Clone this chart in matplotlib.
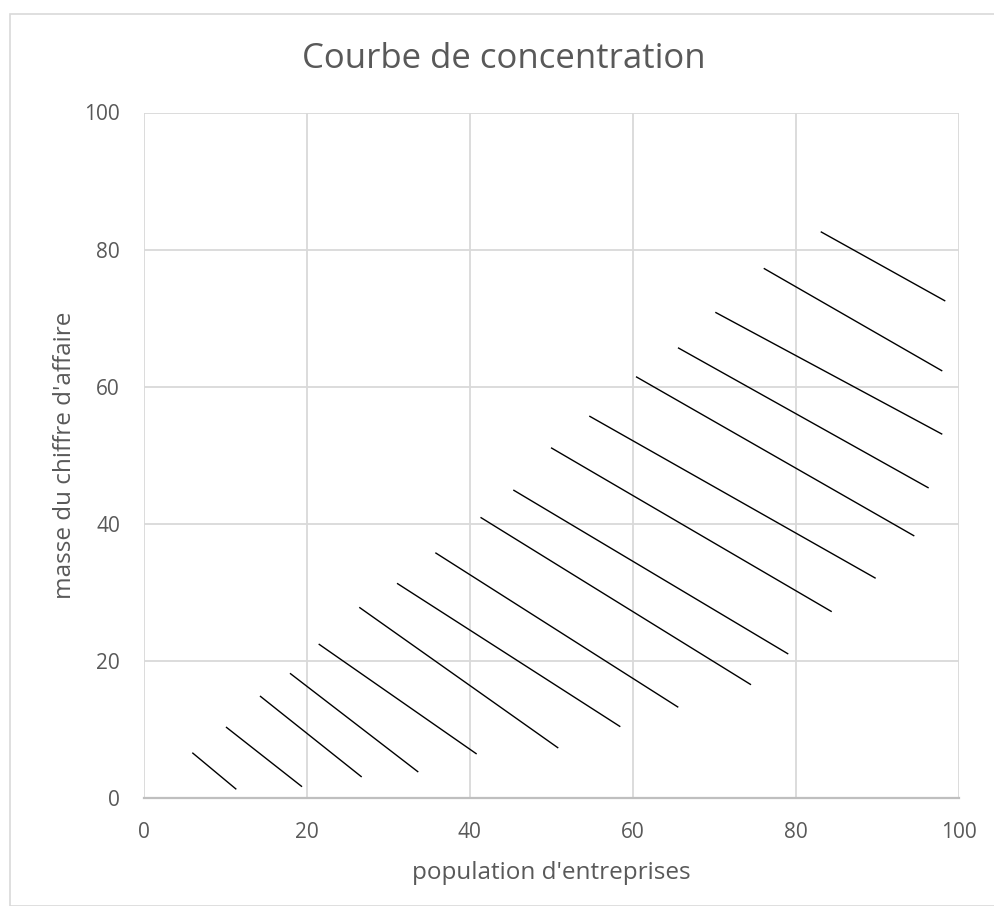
import matplotlib
matplotlib.use("Agg")
import matplotlib.pyplot as plt
from matplotlib.patches import Rectangle

# Hatching segments: start (x0, y0) and end (x1, y1) of each stroke
x_start = [5.96, 10.09, 14.26, 17.94, 21.46, 26.44, 31.07, 35.77, 41.31,
           45.33, 49.96, 54.65, 60.38, 65.53, 70.11, 76.05, 83.04]
y_start = [6.65, 10.40, 14.92, 18.23, 22.50, 27.85, 31.35, 35.81, 40.97,
           44.96, 51.12, 55.74, 61.48, 65.70, 70.87, 77.28, 82.62]
x_end = [11.36, 19.42, 26.74, 33.68, 40.84, 50.85, 58.46, 65.57, 74.49,
         79.06, 84.39, 89.78, 94.52, 96.28, 97.95, 97.95, 98.32]
y_end = [1.31, 1.69, 3.11, 3.83, 6.46, 7.33, 10.44, 13.27, 16.56,
         21.04, 27.21, 32.08, 38.25, 45.25, 53.08, 62.31, 72.51]

x_ticks = [0, 20, 40, 60, 80, 100]
y_ticks = [0, 20, 40, 60, 80, 100]

title = "Courbe de concentration"
x_label = "population d'entreprises"
y_label = "masse du chiffre d'affaire"

plt.rcParams['font.family'] = ['Open Sans', 'DejaVu Sans']

W, H = 994, 906
fig = plt.figure(figsize=(W / 100, H / 100), dpi=100)
fig.patch.set_facecolor("white")

# chart-area frame
fig.patches.append(Rectangle((9.5 / W, 0), 1.2, 1 - 13.5 / H,
                             transform=fig.transFigure, fill=False,
                             edgecolor="#d9d9d9", linewidth=1.2))

left, right = 143.7 / W, 959.0 / W
bottom, top = 1 - 798.3 / H, 1 - 112.5 / H
ax = fig.add_axes([left, bottom, right - left, top - bottom])

ax.set_xlim(0, 100)
ax.set_ylim(0, 100)
ax.set_xticks(x_ticks)
ax.set_yticks(y_ticks)

ax.grid(True, color="#d9d9d9", linewidth=1.3)
ax.set_axisbelow(True)
for side in ["left", "top", "right"]:
    ax.spines[side].set_visible(False)
ax.spines["bottom"].set_color("#bfbfbf")
ax.spines["bottom"].set_linewidth(1.6)

ax.tick_params(length=0, labelsize=15, labelcolor="#595959")
ax.tick_params(axis="x", pad=17)
ax.tick_params(axis="y", pad=17)

for xs, ys, xe, ye in zip(x_start, y_start, x_end, y_end):
    ax.plot([xs, xe], [ys, ye], color="black", linewidth=1.0,
            solid_capstyle="butt")

fig.text(0.5 + 7 / W, 1 - 59 / H, title, ha="center", va="center",
         fontsize=25, color="#595959")
ax.set_xlabel(x_label, fontsize=17.5, color="#595959", labelpad=13)
ax.set_ylabel(y_label, fontsize=17.5, color="#595959", labelpad=5)

fig.savefig("out.png", dpi=100, facecolor="white")
